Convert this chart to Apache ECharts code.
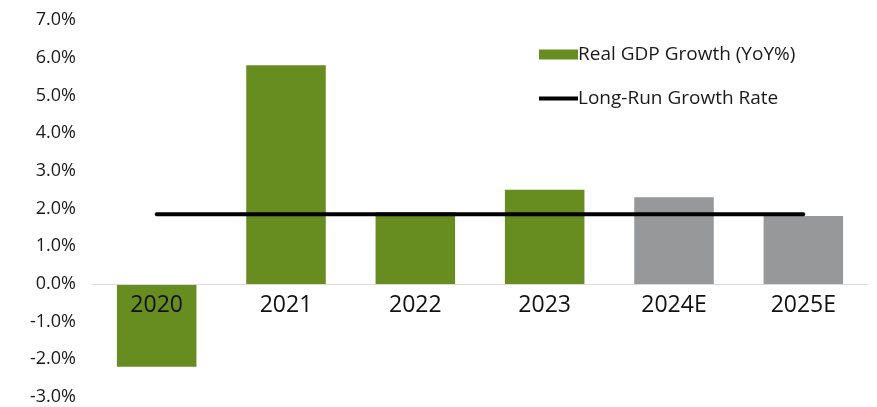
<!DOCTYPE html>
<html>
<head>
<meta charset="utf-8">
<script src="https://cdn.jsdelivr.net/npm/echarts@6/dist/echarts.min.js"></script>
<style>html,body{margin:0;padding:0;background:#fff}#c{width:877px;height:407px}</style>
</head>
<body>
<div id="c"></div>
<script>
const categories = ['2020', '2021', '2022', '2023', '2024E', '2025E'];
const gdpGrowth = [-2.2, 5.8, 1.9, 2.5, 2.3, 1.8];
const isEstimate = [false, false, false, false, true, true];
const longRunRate = [1.85, 1.85, 1.85, 1.85, 1.85, 1.85];
const yTicks = { min: -3, max: 7, interval: 1 };

const GREEN = '#678C1F', GREY = '#97989A';
const FONT = 'Open Sans';
const GRID_TOP = 20, GRID_BOTTOM = 10, H = 407;
const gridH = H - GRID_TOP - GRID_BOTTOM;
const zeroOffset = -gridH * (0 - yTicks.min) / (yTicks.max - yTicks.min);

const chart = echarts.init(document.getElementById('c'));
chart.setOption({
  animation: false,
  textStyle: { fontFamily: FONT },
  grid: { left: 92, right: 9, top: GRID_TOP, bottom: GRID_BOTTOM, containLabel: false, outerBoundsMode: 'none' },
  legend: [
    {
      data: [{ name: 'Real GDP Growth (YoY%)', icon: 'rect' }],
      left: 534, top: 40, itemWidth: 39, itemHeight: 10, itemGap: 5,
      textStyle: { fontFamily: FONT, fontSize: 19, color: '#1a1a1a', padding: [0, 0, 0, -5] }
    },
    {
      data: [{ name: 'Long-Run Growth Rate', icon: 'rect' }],
      left: 534, top: 84, itemWidth: 39, itemHeight: 4, itemGap: 5,
      textStyle: { fontFamily: FONT, fontSize: 19, color: '#1a1a1a', padding: [0, 0, 0, -5] }
    }
  ],
  xAxis: {
    type: 'category',
    data: categories,
    offset: zeroOffset,
    z: 5,
    axisLine: { onZero: false, lineStyle: { color: '#d9d9d9', width: 1 } },
    axisTick: { show: false },
    axisLabel: { fontFamily: FONT, fontSize: 23, color: '#111', margin: 10 }
  },
  yAxis: {
    type: 'value',
    min: yTicks.min, max: yTicks.max, interval: yTicks.interval,
    splitLine: { show: false },
    axisLine: { show: false },
    axisTick: { show: false },
    axisLabel: { fontFamily: FONT, fontSize: 18, color: '#1a1a1a', margin: 16,
      formatter: v => v.toFixed(1) + '%' }
  },
  series: [
    {
      name: 'Real GDP Growth (YoY%)',
      type: 'bar',
      barWidth: '61.5%',
      itemStyle: { color: GREEN },
      data: gdpGrowth.map((v, i) => ({ value: v, itemStyle: { color: isEstimate[i] ? GREY : GREEN } }))
    },
    {
      name: 'Long-Run Growth Rate',
      type: 'line',
      symbol: 'none',
      itemStyle: { color: '#000' },
      lineStyle: { color: '#000', width: 4, cap: 'round' },
      data: longRunRate,
      z: 3
    }
  ]
});
</script>
</body>
</html>
